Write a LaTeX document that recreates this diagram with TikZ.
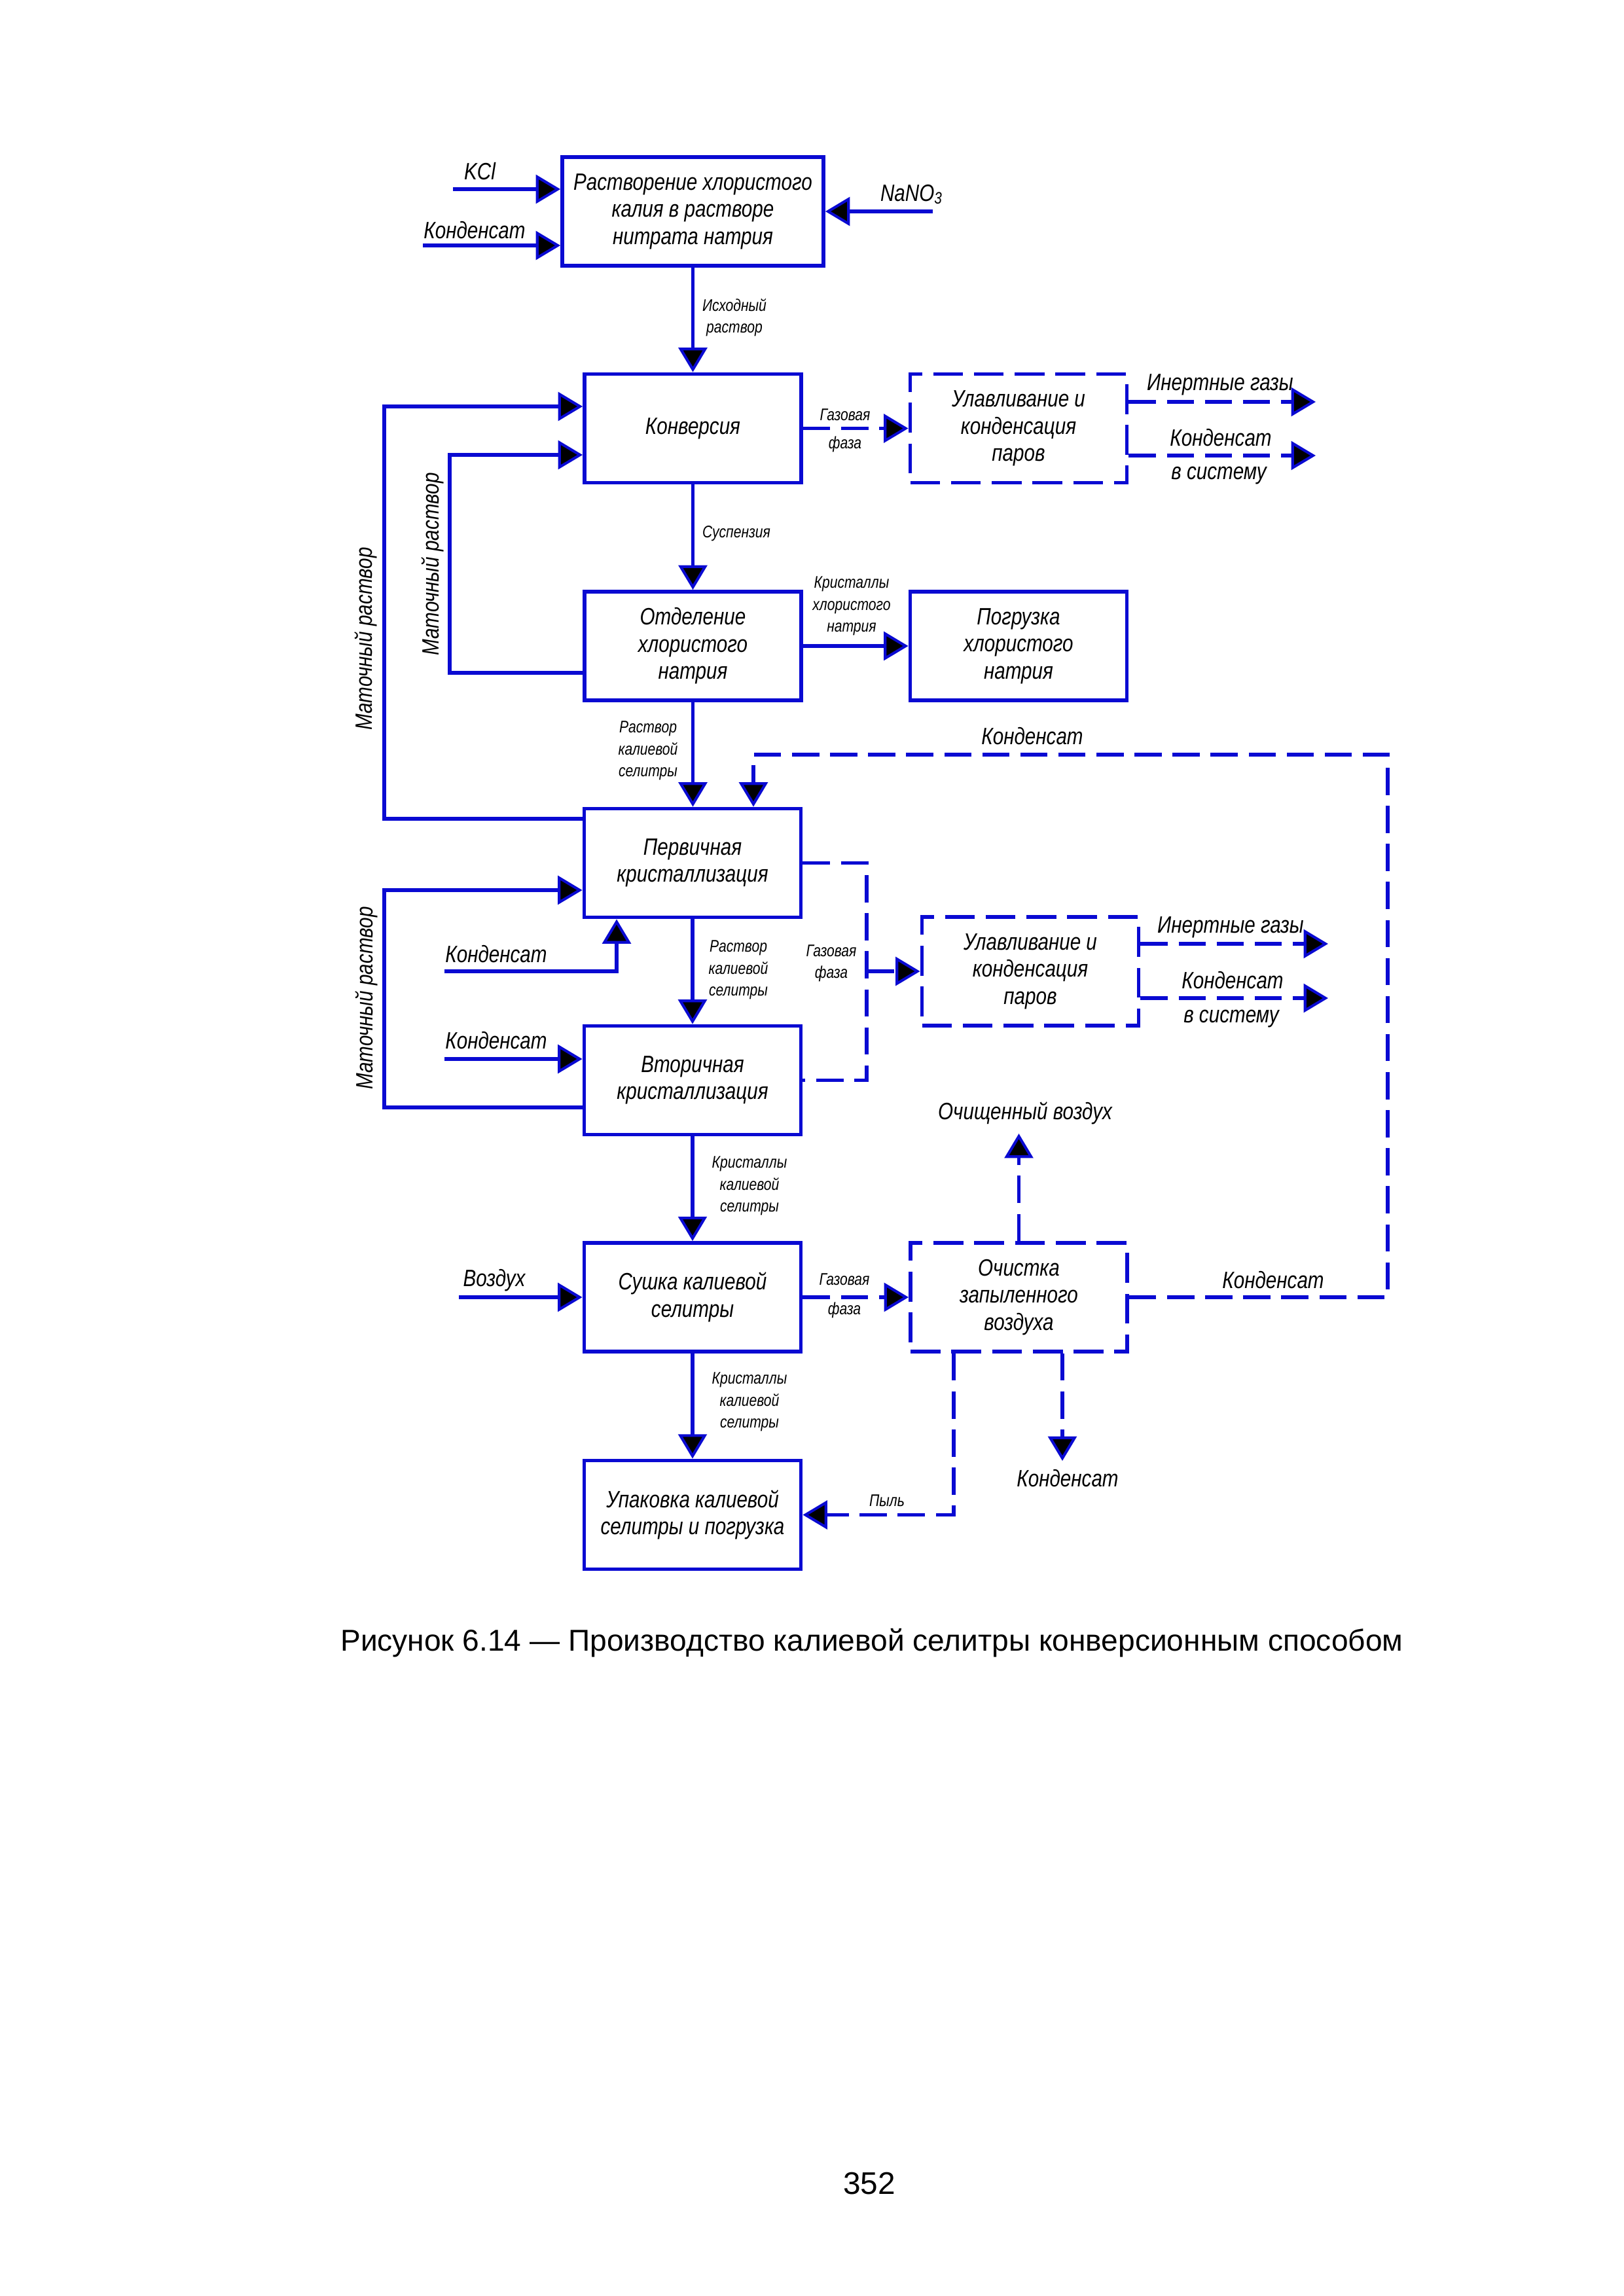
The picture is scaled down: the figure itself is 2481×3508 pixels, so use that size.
\documentclass[tikz,border=0pt]{standalone}
\usepackage{fontspec}
\setmainfont{Liberation Sans}
\newfontfamily\gost[FakeStretch=0.82]{Liberation Sans}
\usetikzlibrary{arrows.meta}
\definecolor{fblue}{RGB}{10,10,210}
\begin{document}
\begin{tikzpicture}[x=0.08465mm,y=-0.08465mm,
  every node/.style={font=\gost\itshape\fontsize{8.7}{10}\selectfont, text=black, inner sep=0pt},
  proc/.style={draw=fblue, line width=1.4pt, minimum width={331*0.08465mm}, minimum height={166*0.08465mm}, align=center},
  dproc/.style={proc, dash pattern=on 11pt off 4pt},
  flow/.style={draw=fblue, line width=1.3pt},
  arr/.style={flow, -{Triangle[width=10.5pt,length=9pt,line width=1pt,fill=black]}},
  dflow/.style={flow, dash pattern=on 10pt off 4pt},
  darr/.style={arr, dash pattern=on 10pt off 4pt},
  small/.style={font=\gost\itshape\fontsize{6.2}{8}\selectfont, align=center},
  lab/.style={align=center}
]
\fill[white] (0,0) rectangle (2481,3508);
\useasboundingbox (0,0) rectangle (2481,3508);

% process boxes
\node[proc, minimum width={399*0.08465mm}] (top) at (1058.5,323) {Растворение хлористого\\калия в растворе\\нитрата натрия};
\node[proc] (conv) at (1058.5,654.5) {Конверсия};
\node[dproc] (trapa) at (1556,654.5) {Улавливание и\\конденсация\\паров};
\node[proc] (sep) at (1058.5,987) {Отделение\\хлористого\\натрия};
\node[proc] (load) at (1556,987) {Погрузка\\хлористого\\натрия};
\node[proc] (prim) at (1058,1318.5) {Первичная\\кристаллизация};
\node[proc] (sec) at (1058,1650.5) {Вторичная\\кристаллизация};
\node[dproc] (trapb) at (1574,1484) {Улавливание и\\конденсация\\паров};
\node[proc] (dry) at (1058,1982) {Сушка калиевой\\селитры};
\node[dproc] (clean) at (1556.5,1982) {Очистка\\запыленного\\воздуха};
\node[proc] (pack) at (1058,2314.5) {Упаковка калиевой\\селитры и погрузка};

% inputs to the top box
\coordinate (kcl) at (692,289);
\coordinate (kd) at (646,375);
\coordinate (nano) at (1425,323);
\draw[arr] (kcl) -- (kcl -| top.west);
\draw[arr] (kd) -- (kd -| top.west);
\draw[arr] (nano) -- (top.east);
\node[lab] (lkcl) at (733,262) {KCl};
\node[lab] (lkd) at (725,352) {Конденсат};
\node[lab] (lnano) at (1393,297) {NaNO\textsubscript{3}};

% top -> conversion
\draw[arr] (top.south) -- (conv.north);
\node[small] (lisx) at (1122,485) {Исходный\\раствор};

% conversion -> trap a
\draw[darr] (conv.east) -- (trapa.west);
\node[small, font=\gost\itshape\fontsize{6.2}{10.3}\selectfont] (lga) at (1291,658) {Газовая\\фаза};
\coordinate (ta1) at (2010,614);
\coordinate (ta2) at (2010,696);
\draw[darr] (ta1 -| trapa.east) -- (ta1);
\draw[darr] (ta2 -| trapa.east) -- (ta2);
\node[lab] (lia) at (1864,588) {Инертные газы};
\node[lab] (lka) at (1865,669) {Конденсат};
\node[lab] (lsa) at (1862,727) {в систему};

% conversion -> separation
\draw[arr] (conv.south) -- (sep.north);
\node[small] (lsus) at (1125,815) {Суспензия};
\draw[arr] (sep.east) -- (load.west);
\node[small] (lkx) at (1301,926) {Кристаллы\\хлористого\\натрия};

% mother liquor loops
\coordinate (ia) at (687,1028);
\coordinate (ib) at (687,695);
\draw[arr] (ia -| sep.west) -- (ia) -- (ib) -- (ib -| conv.west);
\coordinate (oa) at (587,1251);
\coordinate (ob) at (587,621);
\draw[arr] (oa -| prim.west) -- (oa) -- (ob) -- (ob -| conv.west);
\node[lab, rotate=90] (lm1) at (661,862) {Маточный раствор};
\node[lab, rotate=90] (lm2) at (559,976) {Маточный раствор};

% separation -> primary
\draw[arr] (sep.south) -- (prim.north -| sep.south);
\node[small] (lrs1) at (990,1147) {Раствор\\калиевой\\селитры};

% condensate return loop
\coordinate (kr1) at (2120,1982);
\coordinate (kr2) at (2120,1153);
\coordinate (kr3) at (1151,1153);
\draw[darr] (clean.east) -- (kr1) -- (kr2) -- (kr3) -- (kr3 |- prim.north);
\node[lab] (lkr) at (1577,1125) {Конденсат};
\node[lab] (lkr2) at (1945,1956) {Конденсат};

% condensate inputs to crystallisers
\coordinate (kp) at (679,1484);
\coordinate (kpc) at (942,1484);
\draw[arr] (kp) -- (kpc) -- (kpc |- prim.south);
\node[lab] (lkp) at (758,1458) {Конденсат};
\coordinate (ks) at (679,1618);
\draw[arr] (ks) -- (ks -| sec.west);
\node[lab] (lks) at (758,1590) {Конденсат};

% lower mother liquor loop
\coordinate (la) at (587,1692);
\coordinate (lb) at (587,1360);
\draw[arr] (la -| sec.west) -- (la) -- (lb) -- (lb -| prim.west);
\node[lab, rotate=90] (lm3) at (560,1525) {Маточный раствор};

% primary -> secondary
\draw[arr] (prim.south) -- (sec.north);
\node[small] (lrs2) at (1128,1482) {Раствор\\калиевой\\селитры};

% gas phase from crystallisers
\coordinate (g1) at (1324,1318.5);
\coordinate (g2) at (1324,1650.5);
\coordinate (g3) at (1324,1484);
\draw[dflow] (prim.east) -- (g1) -- (g2) -- (sec.east);
\draw[darr] (g3) -- (trapb.west);
\node[small] (lgb) at (1270,1472) {Газовая\\фаза};
\coordinate (tb1) at (2029,1442);
\coordinate (tb2) at (2029,1525);
\draw[darr] (tb1 -| trapb.east) -- (tb1);
\draw[darr] (tb2 -| trapb.east) -- (tb2);
\node[lab] (lib) at (1880,1417) {Инертные газы};
\node[lab] (lkb) at (1883,1498) {Конденсат};
\node[lab] (lsb) at (1881,1557) {в систему};

% secondary -> drying
\draw[arr] (sec.south) -- (dry.north);
\node[small] (lkk1) at (1145,1812) {Кристаллы\\калиевой\\селитры};
\coordinate (air) at (701,1982);
\draw[arr] (air) -- (dry.west);
\node[lab] (lair) at (755,1956) {Воздух};
\draw[darr] (dry.east) -- (clean.west);
\node[small, font=\gost\itshape\fontsize{6.2}{10.8}\selectfont] (lgc) at (1290,1980) {Газовая\\фаза};

% cleaning outputs
\coordinate (ca) at (1557,1732);
\draw[darr] (clean.north) -- (clean.north |- ca);
\node[lab] (lca) at (1566,1701) {Очищенный воздух};
\coordinate (dp) at (1457,2314.5);
\draw[darr] (dp |- clean.south) -- (dp) -- (pack.east);
\node[small] (ldp) at (1355,2293) {Пыль};
\coordinate (cd) at (1623,2232);
\draw[darr] (cd |- clean.south) -- (cd);
\node[lab] (lcd) at (1631,2259) {Конденсат};

% drying -> packing
\draw[arr] (dry.south) -- (pack.north);
\node[small] (lkk2) at (1145,2142) {Кристаллы\\калиевой\\селитры};

% caption and page number
\node[font=\normalfont\fontsize{11.1}{13}\selectfont] (cap) at (1332,2510) {Рисунок 6.14 — Производство калиевой селитры конверсионным способом};
\node[font=\normalfont\fontsize{11.5}{13}\selectfont] (pg) at (1328,3336) {352};
\end{tikzpicture}
\end{document}
